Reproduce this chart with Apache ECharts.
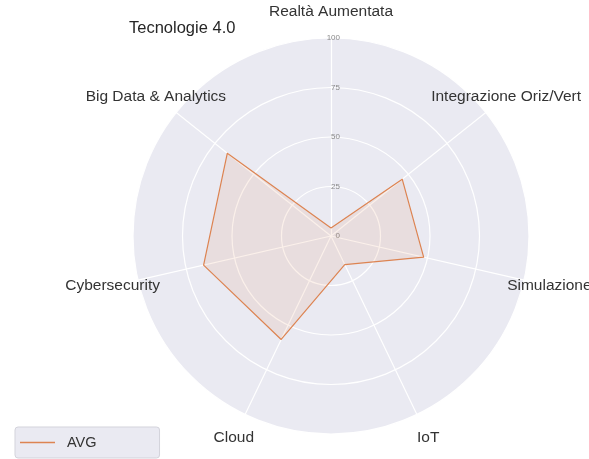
<!DOCTYPE html>
<html>
<head>
<meta charset="utf-8">
<script src="https://cdn.jsdelivr.net/npm/echarts@6/dist/echarts.min.js"></script>
<style>
  html, body { margin: 0; padding: 0; background: #fff; }
  #chart { width: 589px; height: 459px; }
</style>
</head>
<body>
<div id="chart"></div>
<script>
'use strict'

// indicators listed counter-clockwise from the top
var categories = ['Realtà Aumentata', 'Big Data & Analytics', 'Cybersecurity', 'Cloud', 'IoT', 'Simulazione', 'Integrazione Oriz/Vert'];
var avgValues = [4, 67, 66, 58, 16, 48, 46];
var radialTicks = [0, 25, 50, 75, 100];
var seriesName = 'AVG';

var axisMax = radialTicks[radialTicks.length - 1];
var lineColor = '#DD8452';
var fontFamily = '"Liberation Sans", Arial, sans-serif';

var indicators = categories.map(function (name, i) {
    var ind = { name: name, max: axisMax, min: 0 };
    if (i === 0) {
        // only the top axis carries the radial tick labels
        ind.axisLabel = { show: true };
    }
    return ind;
});

var myChart = echarts.init(document.getElementById('chart'));
var option = {
    backgroundColor: '#ffffff',
    animation: false,
    title: {
        text: 'Tecnologie 4.0',
        left: 124,
        top: 15,
        textStyle: { fontSize: 16.5, fontWeight: 'normal', color: '#262626', fontFamily: fontFamily }
    },
    legend: {
        data: [seriesName],
        left: 15,
        top: 427,
        icon: 'rect',
        itemWidth: 35,
        itemHeight: 1.5,
        padding: [8, 63, 8, 5],
        backgroundColor: '#EAEAF2',
        borderColor: '#d3d3db',
        borderWidth: 1,
        borderRadius: 3,
        textStyle: { fontSize: 14.5, color: '#333', fontFamily: fontFamily, padding: [0, 0, 0, 7] }
    },
    radar: {
        center: [331, 236],
        radius: 198,
        shape: 'circle',
        splitNumber: radialTicks.length - 1,
        nameGap: 26,
        axisName: {
            color: '#333',
            fontSize: 15.5,
            fontFamily: fontFamily,
            align: 'center',
            verticalAlign: 'middle'
        },
        indicator: indicators,
        axisLine: { lineStyle: { color: '#ffffff', width: 1.2 } },
        splitLine: { lineStyle: { color: '#ffffff', width: 1.2 } },
        splitArea: { show: true, areaStyle: { color: ['#EAEAF2'] } },
        axisTick: { show: false },
        axisLabel: {
            show: false,
            color: '#8a8a8a',
            fontSize: 8,
            fontFamily: fontFamily,
            margin: -9
        }
    },
    series: [
        {
            name: seriesName,
            type: 'radar',
            symbol: 'none',
            lineStyle: { color: lineColor, width: 1.2 },
            itemStyle: { color: lineColor },
            areaStyle: { color: lineColor, opacity: 0.12 },
            data: [{ value: avgValues, name: seriesName }]
        }
    ]
};
myChart.setOption(option);
</script>
</body>
</html>
